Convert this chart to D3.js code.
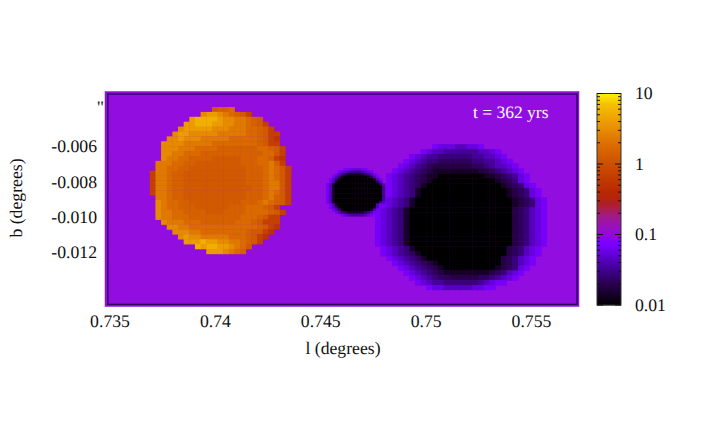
<!DOCTYPE html>
<html><head><meta charset="utf-8">
<script src="https://cdn.jsdelivr.net/npm/d3@7"></script>
<style>html,body{margin:0;background:#fff}svg{display:block}text{font-family:"Liberation Serif",serif;fill:#111;text-rendering:geometricPrecision}</style>
</head><body><svg id="c" width="707" height="426"></svg>
<script>
const xTicks=[0.735,0.74,0.745,0.75,0.755];
const xTickLabels=["0.735","0.74","0.745","0.75","0.755"];
const yTicks=[-0.006,-0.008,-0.010,-0.012];
const yTickLabels=["-0.006","-0.008","-0.010","-0.012"];
const cbTicks=[0.01,0.1,1,10];
const cbLabels=["0.01","0.1","1","10"];
const cbMinor=[0.02,0.03,0.04,0.05,0.06,0.07,0.08,0.09,0.2,0.3,0.4,0.5,0.6,0.7,0.8,0.9,2,3,4,5,6,7,8,9];
const backgroundValue=0.1;
const levelValues={"1":0.5,"2":0.68,"3":1.25,"4":1.45,"5":1.75,"6":2.3,"7":3,"8":4,"9":5.5,
  a:0.07,b:0.056,c:0.044,d:0.034,e:0.027,f:0.022,g:0.0185,h:0.0145,i:0.01};
const paletteLog=[-2,-1.72,-1.5,-1.25,-1.13,-1,-0.75,-0.55,-0.4,0,0.3,0.6,0.85,1];
const paletteCol=["#000000","#280048","#400090","#6600e0","#7a00ff","#9209e0","#a01a90","#b02020","#b82800","#cc5000","#dd7000","#ec9c00","#f5c000","#ffee00"];

const orangeRows=[
"...........3445..........",
".........788765432.......",
".......8999987766543.....",
"......889998877665432....",
".....78888877766655432...",
"....7887777766666554322..",
"...77877766666555554321..",
"..777766666555555554322..",
"..7776665555444444455432.",
"..7766555444444444445532.",
"..7665544443333344455421.",
".66655443333333344455642.",
".665544333333333344456532",
"2665443333333333344456532",
"2665443333333333344456532",
"2665443333333333344456632",
"2665443333333333334456632",
"2665443333333333344456532",
".665443333333333344456432",
".765544333333333444565432",
".7655444333333444555432..",
".766554444333444455554 32.".replace(" ",""),
".7665554444444445554322..",
"..766655544444455543222..",
"...77665555555555554321..",
"....777665555555543321...",
".....7877666665554321....",
"......88898877665432.....",
"........9899887653.......",
"..........8887654........"
];
const darkRows=[
"..........abbbccbba...........",
"........abccddddddccba........",
"......abcddeeeeeeddccba.......",
".....abcdeeffffffeeddcba......",
"....abcdefgggggggffedccba.....",
"...abcdefghhhhhhhhggfedcba....",
"..abcdefghhiiiiiiiihhgfedba...",
"..abcdefghiiiiiiiiiiihgfeba...",
"..abcdefhiiiiiiiiiiiiihgfeba..",
"..abcdehiiiiiiiiiiiiiiihgfeba.",
"..abcdehiiiiiiiiiiiiiiihgfeba.",
".abcdehiiiiiiiiiiiiiiiiihgfeba",
".abcdehiiiiiiiiiiiiiiiiihgfeba",
"abcdehiiiiiiiiiiiiiiiiiigfecba",
"abcdehiiiiiiiiiiiiiiiiiigfecba",
"abcdehiiiiiiiiiiiiiiiiiigfecba",
"abcdehiiiiiiiiiiiiiiiiiigfecba",
"abcdehiiiiiiiiiiiiiiiiiigfecba",
"abcdehiiiiiiiiiiiiiiiiiigfecba",
"abcdehiiiiiiiiiiiiiiiiiigfecba",
"abcdehiiiiiiiiiiiiiiiiiigfecba",
".abcdehiiiiiiiiiiiiiiiigfecba.",
".abcdefhiiiiiiiiiiiiiiigfecba.",
"..abcdefhiiiiiiiiiiiiigfecba..",
"...abcdefghiiiiiiiiiiigfecba..",
"....abcdefghiiiiiiiiihgfeba...",
".....abcdefghhhhhhhhgfecba....",
"......abcdeffgggggffedcba.....",
".......abcddeeeeeedcbaa.......",
".........abbcccccbbaa........."
];
const holeRows=[
"......aabbbbaa......",
"....abcdeeeedcba....",
"...acefhhhhhhfeca...",
"..acehiiiiiiiihfca..",
".aceiiiiiiiiiiiihca.",
".achiiiiiiiiiiiiigc.",
"achiiiiiiiiiiiiiiigc",
"achiiiiiiiiiiiiiiiid",
"achiiiiiiiiiiiiiiiid",
"achiiiiiiiiiiiiiiiid",
"achiiiiiiiiiiiiiiiid",
"achiiiiiiiiiiiiiiiid",
"achiiiiiiiiiiiiiiiid",
"achiiiiiiiiiiiiiiiec",
".achiiiiiiiiiiiiica.",
".aceiiiiiiiiiiiihca.",
"..acehiiiiiiiiihca..",
"...acefhhhhhhfeca...",
".....abcdddddcba...."
];
const patches=[
 {rows:orangeRows,l0:0.736910,b0:-0.003792,dl:0.000268,db:0.000277},
 {rows:darkRows,l0:0.747598,b0:-0.005904,dl:0.0002714,db:0.0002745},
 {rows:holeRows,l0:0.745270,b0:-0.007250,dl:0.000140,db:0.000143}
];

const svg=d3.select("#c");
const x=d3.scaleLinear().domain([0.734786,0.757278]).range([105,579]);
const y=d3.scaleLinear().domain([-0.002915,-0.015085]).range([91.5,306.5]);
const colour=d3.scaleLinear().domain(paletteLog).range(paletteCol).interpolate(d3.interpolateRgb).clamp(true);
const col=v=>colour(Math.log10(v));

const defs=svg.append("defs");
defs.append("filter").attr("id","soft").attr("x","-2%").attr("y","-2%").attr("width","104%").attr("height","104%")
  .append("feGaussianBlur").attr("stdDeviation",0.6);
defs.append("clipPath").attr("id","plotClip").append("rect")
  .attr("x",105).attr("y",91.5).attr("width",474).attr("height",215);

svg.append("rect").attr("x",104.5).attr("y",91).attr("width",475).attr("height",216).attr("fill","#c68cf0");
const clip=svg.append("g").attr("clip-path","url(#plotClip)");
const heat=clip.append("g").attr("filter","url(#soft)");
heat.append("rect").attr("x",95).attr("y",80).attr("width",495).attr("height",240).attr("fill",col(backgroundValue));
patches.forEach(p=>{
  p.rows.forEach((row,r)=>{
    Array.from(row).forEach((ch,c)=>{
      if(ch===".")return;
      const x0=x(p.l0+c*p.dl),x1=x(p.l0+(c+1)*p.dl),y0=y(p.b0-r*p.db),y1=y(p.b0-(r+1)*p.db);
      heat.append("rect").attr("x",x0).attr("y",y0).attr("width",x1-x0+0.4).attr("height",y1-y0+0.4).attr("fill",col(levelValues[ch]));
    });
  });
});
svg.append("rect").attr("x",107.8).attr("y",94).attr("width",469.2).attr("height",210.4)
  .attr("fill","none").attr("stroke","#2a0058").attr("stroke-width",1.4);

const fs=17.7;
const gx=svg.append("g").attr("transform","translate(0,306.5)")
  .call(d3.axisBottom(x).tickValues(xTicks).tickSize(0).tickPadding(8).tickFormat((d,i)=>xTickLabels[i]));
gx.select(".domain").remove();
gx.selectAll("text").attr("font-size",fs).attr("fill","#111").style("font-family",'"Liberation Serif",serif');
const gy=svg.append("g").attr("transform","translate(105,0)")
  .call(d3.axisLeft(y).tickValues(yTicks).tickSize(0).tickPadding(8).tickFormat((d,i)=>yTickLabels[i]));
gy.select(".domain").remove();
gy.selectAll("text").attr("font-size",fs).attr("fill","#111").style("font-family",'"Liberation Serif",serif');

svg.append("text").attr("x",104).attr("y",113).attr("text-anchor","end").attr("font-size",fs).text('"');
svg.append("text").attr("x",343).attr("y",354).attr("text-anchor","middle").attr("font-size",fs).text("l (degrees)");
svg.append("text").attr("transform","translate(22,198) rotate(-90)").attr("text-anchor","middle").attr("font-size",fs).text("b (degrees)");
svg.append("text").attr("x",473).attr("y",118).attr("font-size",17.5).style("fill","#fff").text("t = 362 yrs");

const cb=d3.scaleLog().domain([0.01,10]).range([305,93.5]);
const cbG=svg.append("g");
const cbSteps=d3.range(305,93,-1);
cbG.selectAll("rect").data(cbSteps).join("rect")
  .attr("x",597).attr("y",d=>d-1).attr("width",24).attr("height",1.4)
  .attr("fill",d=>col(cb.invert(d-0.5)));
cbG.append("rect").attr("x",597).attr("y",93.5).attr("width",24).attr("height",211.5)
  .attr("fill","none").attr("stroke","#333").attr("stroke-width",1);
[[cbMinor,3],[cbTicks,6]].forEach(([vals,len])=>{
  vals.forEach(v=>{
    cbG.append("line").attr("x1",597).attr("x2",597+len).attr("y1",cb(v)).attr("y2",cb(v)).attr("stroke","#111");
    cbG.append("line").attr("x1",621).attr("x2",621-len).attr("y1",cb(v)).attr("y2",cb(v)).attr("stroke","#111");
  });
});
svg.selectAll(".cbl").data(cbTicks).join("text").attr("class","cbl")
  .attr("x",635).attr("y",d=>cb(d)+5.5).attr("font-size",fs).text((d,i)=>cbLabels[i]);
</script></body></html>
